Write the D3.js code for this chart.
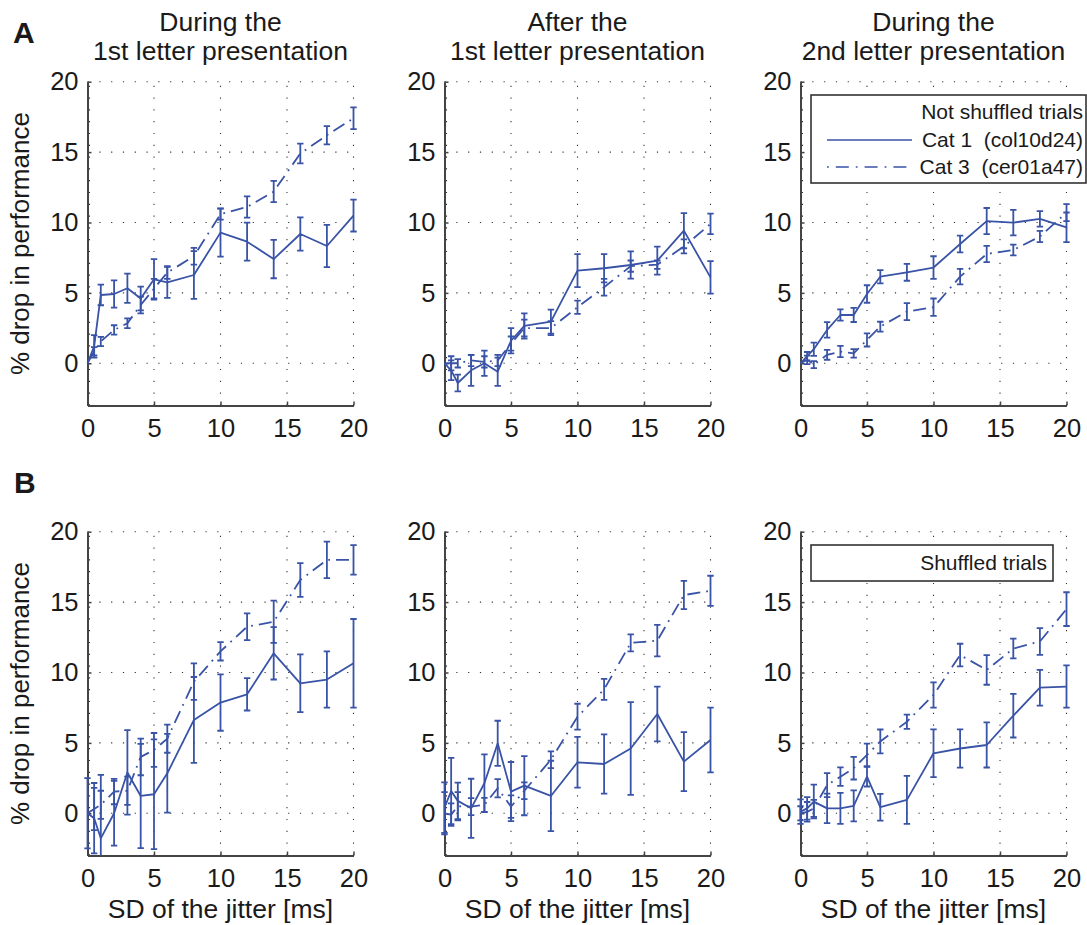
<!DOCTYPE html>
<html>
<head>
<meta charset="utf-8">
<script src="https://cdn.jsdelivr.net/npm/d3@7"></script>
<style>
  html, body { margin: 0; padding: 0; background: #fff; }
  svg { display: block; }
  text { font-family: "Liberation Sans", Arial, sans-serif; fill: #1a1a1a; }
</style>
</head>
<body>
<svg id="chart" width="1087" height="925"></svg>
<script>
// ---------------- data ----------------
const jitterSD = [0, 0.5, 1, 2, 3, 4, 5, 6, 8, 10, 12, 14, 16, 18, 20];
const xTicks = [0, 5, 10, 15, 20];
const yTicks = [0, 5, 10, 15, 20];
const titlesTop = [["During the", "1st letter presentation"], ["After the", "1st letter presentation"], ["During the", "2nd letter presentation"]];
const rowLetters = ["A", "B"];
const legendTop = ["Not shuffled trials", "Cat 1  (col10d24)", "Cat 3  (cer01a47)"];
const legendBottom = ["Shuffled trials"];

// Row A (not shuffled)
const a1Cat1 = [0, 1.2, 4.85, 4.92, 5.33, 4.6, 5.96, 5.75, 6.27, 9.28, 8.64, 7.4, 9.18, 8.33, 10.49];
const a1Cat1Err = [0, 0.8, 0.73, 0.97, 1.04, 0.85, 1.44, 1.1, 1.7, 1.7, 1.35, 1.36, 1.18, 1.5, 1.13];
const a1Cat3 = [0, 0.85, 1.55, 2.37, 2.84, 4.14, 5.3, 6.44, 7.6, 10.6, 11.1, 12.2, 14.9, 16.2, 17.4];
const a1Cat3Err = [0, 0.3, 0.33, 0.33, 0.35, 0.6, 0.7, 0.45, 0.6, 0.4, 0.75, 0.75, 0.7, 0.65, 0.77];

const a2Cat1 = [0, -0.5, -1.4, -0.5, 0, -0.6, 1.6, 2.65, 2.96, 6.58, 6.75, 6.98, 7.29, 9.42, 6.1];
const a2Cat1Err = [0, 0.7, 0.6, 1.1, 0.9, 1.0, 0.9, 0.9, 0.85, 1.17, 1.0, 0.97, 1.0, 1.25, 1.15];
const a2Cat3 = [0, 0, 0, 0.2, 0.1, 0.2, 1.4, 2.5, 2.5, 3.98, 5.4, 6.9, 7.0, 8.3, 9.9];
const a2Cat3Err = [0, 0.5, 0.3, 0.4, 0.4, 0.4, 0.5, 0.6, 0.5, 0.47, 0.6, 0.4, 0.3, 0.5, 0.73];

const a3Cat1 = [0, 0.5, 1.0, 2.37, 3.43, 3.43, 4.92, 6.15, 6.46, 6.8, 8.47, 10.1, 9.99, 10.25, 9.66];
const a3Cat1Err = [0, 0.3, 0.47, 0.55, 0.4, 0.5, 0.62, 0.47, 0.6, 0.8, 0.6, 0.93, 0.9, 0.55, 1.05];
const a3Cat3 = [0, 0.24, -0.1, 0.6, 0.83, 0.7, 1.66, 2.6, 3.67, 3.98, 6.15, 7.76, 8.05, 9.0, 10.7];
const a3Cat3Err = [0, 0.3, 0.25, 0.35, 0.4, 0.3, 0.47, 0.35, 0.6, 0.62, 0.55, 0.58, 0.38, 0.4, 0.6];

// Row B (shuffled)
const b1Cat1 = [0, -0.35, -1.78, 0, 2.9, 1.23, 1.35, 2.84, 6.63, 7.86, 8.45, 11.36, 9.23, 9.5, 10.65];
const b1Cat1Err = [2.5, 2.5, 4.5, 2.3, 3.0, 3.7, 3.9, 2.8, 3.05, 2.0, 1.15, 1.86, 2.05, 2.0, 3.15];
const b1Cat3 = [0, 0.3, 0.6, 1.54, 1.6, 4.0, 4.5, 5.3, 9.35, 11.5, 13.25, 13.6, 16.57, 18.0, 18.0];
const b1Cat3Err = [0, 1.5, 1.0, 0.9, 1.0, 1.3, 1.2, 1.0, 1.3, 0.65, 0.95, 1.5, 1.2, 1.3, 1.05];

const b2Cat1 = [0.4, 1.58, 0.88, 0.35, 2.13, 4.97, 1.54, 1.96, 1.23, 3.62, 3.5, 4.6, 7.05, 3.67, 5.2];
const b2Cat1Err = [1.8, 2.35, 1.3, 2.1, 2.05, 1.6, 2.1, 2.1, 2.5, 1.8, 2.1, 3.3, 1.95, 2.1, 2.3];
const b2Cat3 = [0, -0.1, 0.5, 0.47, 0.6, 1.78, 0.47, 1.6, 3.8, 6.86, 8.8, 12.1, 12.26, 15.5, 15.8];
const b2Cat3Err = [1.5, 0.8, 1.0, 0.6, 0.5, 0.65, 0.8, 0.6, 0.6, 0.92, 0.75, 0.6, 1.12, 1.0, 1.07];

const b3Cat1 = [0.12, 0.35, 0.83, 0.35, 0.35, 0.52, 2.6, 0.43, 0.95, 4.26, 4.6, 4.85, 6.93, 8.92, 9.0];
const b3Cat1Err = [0.87, 0.8, 1.2, 1.05, 1.1, 1.1, 0.7, 0.95, 1.7, 1.7, 1.36, 1.6, 1.55, 1.27, 1.5];
const b3Cat3 = [0, 0.1, 0.35, 2.0, 2.6, 3.2, 4.14, 5.1, 6.5, 8.4, 11.24, 10.18, 11.7, 12.2, 14.5];
const b3Cat3Err = [0.5, 0.7, 0.6, 0.85, 0.66, 0.8, 0.8, 0.85, 0.5, 0.9, 0.8, 1.05, 0.7, 0.95, 1.2];

const panels = [
  [ [a1Cat1, a1Cat1Err, a1Cat3, a1Cat3Err], [a2Cat1, a2Cat1Err, a2Cat3, a2Cat3Err], [a3Cat1, a3Cat1Err, a3Cat3, a3Cat3Err] ],
  [ [b1Cat1, b1Cat1Err, b1Cat3, b1Cat3Err], [b2Cat1, b2Cat1Err, b2Cat3, b2Cat3Err], [b3Cat1, b3Cat1Err, b3Cat3, b3Cat3Err] ]
];

// ---------------- layout ----------------
const BLUE = "#3953a6";
const AXIS = "#444";
const colX0 = [87.5, 444.5, 800.5];
const panelW = 266;
const rowTop = [81.7, 531.7];
const panelH = 323.8;
const FS_TICK = 25.5;
const FS_TITLE = 26.5;
const FS_LEG = 21;

const svg = d3.select("#chart");

function drawPanel(r, c) {
  const x = d3.scaleLinear().domain([0, 20]).range([colX0[c], colX0[c] + panelW]);
  const y = d3.scaleLinear().domain([-3, 20]).range([rowTop[r] + panelH, rowTop[r]]);
  const g = svg.append("g");
  const id = `clip-${r}-${c}`;
  svg.append("clipPath").attr("id", id).append("rect")
    .attr("x", x(0) - 4).attr("y", y(20) - 8).attr("width", panelW + 8).attr("height", y(-3) - y(20) + 8);

  // grid
  g.append("g").selectAll("line").data(xTicks).join("line")
    .attr("x1", d => x(d) + (d === 0 ? 2 : 0)).attr("x2", d => x(d) + (d === 0 ? 2 : 0))
    .attr("y1", y(-3)).attr("y2", y(20))
    .attr("stroke", "#333").attr("stroke-width", 1.1).attr("stroke-dasharray", "1.2,10.6");
  g.append("g").selectAll("line").data(yTicks).join("line")
    .attr("x1", x(0)).attr("x2", x(20))
    .attr("y1", d => y(d)).attr("y2", d => y(d))
    .attr("stroke", "#333").attr("stroke-width", 1.1).attr("stroke-dasharray", "1.2,10.6");

  // axes
  const ax = g.append("g").attr("transform", `translate(0,${y(-3)})`)
    .call(d3.axisBottom(x).tickValues(xTicks).tickSizeInner(-4).tickSizeOuter(0).tickPadding(13));
  const ay = g.append("g").attr("transform", `translate(${x(0)},0)`)
    .call(d3.axisLeft(y).tickValues(yTicks).tickSizeInner(-4).tickSizeOuter(0).tickPadding(9));
  [ax, ay].forEach(a => {
    a.select(".domain").attr("stroke", AXIS).attr("stroke-width", 2);
    a.selectAll(".tick line").attr("stroke", AXIS).attr("stroke-width", 1.5);
    a.selectAll(".tick text").attr("font-size", FS_TICK).attr("font-family", "Liberation Sans, Arial, sans-serif").attr("fill", "#1a1a1a");
  });

  const [c1, e1, c3, e3] = panels[r][c];
  const plot = g.append("g").attr("clip-path", `url(#${id})`);
  const line = d3.line().x((d, i) => x(jitterSD[i])).y(d => y(d));

  function errorBars(vals, errs) {
    const eb = plot.append("g").attr("stroke", BLUE).attr("stroke-width", 1.8).attr("fill", "none");
    vals.forEach((v, i) => {
      const e = errs[i];
      if (!e) return;
      const xi = x(jitterSD[i]);
      eb.append("line").attr("x1", xi).attr("x2", xi).attr("y1", y(v - e)).attr("y2", y(v + e));
      eb.append("line").attr("x1", xi - 3.2).attr("x2", xi + 3.2).attr("y1", y(v - e)).attr("y2", y(v - e));
      eb.append("line").attr("x1", xi - 3.2).attr("x2", xi + 3.2).attr("y1", y(v + e)).attr("y2", y(v + e));
    });
  }
  errorBars(c1, e1);
  errorBars(c3, e3);
  plot.append("path").datum(c1).attr("d", line).attr("fill", "none")
    .attr("stroke", BLUE).attr("stroke-width", 1.8).attr("stroke-linejoin", "round");
  plot.append("path").datum(c3).attr("d", line).attr("fill", "none")
    .attr("stroke", BLUE).attr("stroke-width", 1.8).attr("stroke-dasharray", "13,6,1.8,6");

  // titles
  if (r === 0) {
    const cx = (x(0) + x(20)) / 2;
    svg.append("text").attr("x", cx).attr("y", 31).attr("text-anchor", "middle").attr("font-size", FS_TITLE).text(titlesTop[c][0]);
    svg.append("text").attr("x", cx).attr("y", 60).attr("text-anchor", "middle").attr("font-size", FS_TITLE).text(titlesTop[c][1]);
  }
  if (c === 0) {
    const cy = (y(-3) + y(20)) / 2;
    svg.append("text").attr("transform", `translate(29,${cy}) rotate(-90)`).attr("text-anchor", "middle")
      .attr("font-size", 26).text("% drop in performance");
  }
  if (r === 1) {
    const cx = (x(0) + x(20)) / 2;
    svg.append("text").attr("x", cx).attr("y", 918).attr("text-anchor", "middle").attr("font-size", FS_TITLE).text("SD of the jitter [ms]");
  }
}

for (let r = 0; r < 2; r++) for (let c = 0; c < 3; c++) drawPanel(r, c);

// row letters
svg.append("text").attr("x", 13).attr("y", 43).attr("font-size", 30).attr("font-weight", "bold").text(rowLetters[0]);
svg.append("text").attr("x", 14).attr("y", 493).attr("font-size", 30).attr("font-weight", "bold").text(rowLetters[1]);

// legend top-right
const lg = svg.append("g");
lg.append("rect").attr("x", 811).attr("y", 95).attr("width", 275).attr("height", 88)
  .attr("fill", "#fff").attr("stroke", "#333").attr("stroke-width", 1.6);
lg.append("text").attr("x", 1083).attr("y", 119).attr("text-anchor", "end").attr("font-size", FS_LEG).text(legendTop[0]);
lg.append("text").attr("x", 1083).attr("y", 147).attr("text-anchor", "end").attr("font-size", FS_LEG).style("white-space", "pre").text(legendTop[1]);
lg.append("text").attr("x", 1083).attr("y", 174).attr("text-anchor", "end").attr("font-size", FS_LEG).style("white-space", "pre").text(legendTop[2]);
lg.append("line").attr("x1", 827).attr("x2", 912).attr("y1", 140).attr("y2", 140).attr("stroke", BLUE).attr("stroke-width", 1.6);
lg.append("line").attr("x1", 827).attr("x2", 912).attr("y1", 167).attr("y2", 167).attr("stroke", BLUE).attr("stroke-width", 1.6)
  .attr("stroke-dasharray", "1.8,7,13,7");

// legend bottom-right
const lb = svg.append("g");
lb.append("rect").attr("x", 811).attr("y", 545).attr("width", 242).attr("height", 36)
  .attr("fill", "#fff").attr("stroke", "#333").attr("stroke-width", 1.6);
lb.append("text").attr("x", 1047).attr("y", 570).attr("text-anchor", "end").attr("font-size", FS_LEG).text(legendBottom[0]);
</script>
</body>
</html>
